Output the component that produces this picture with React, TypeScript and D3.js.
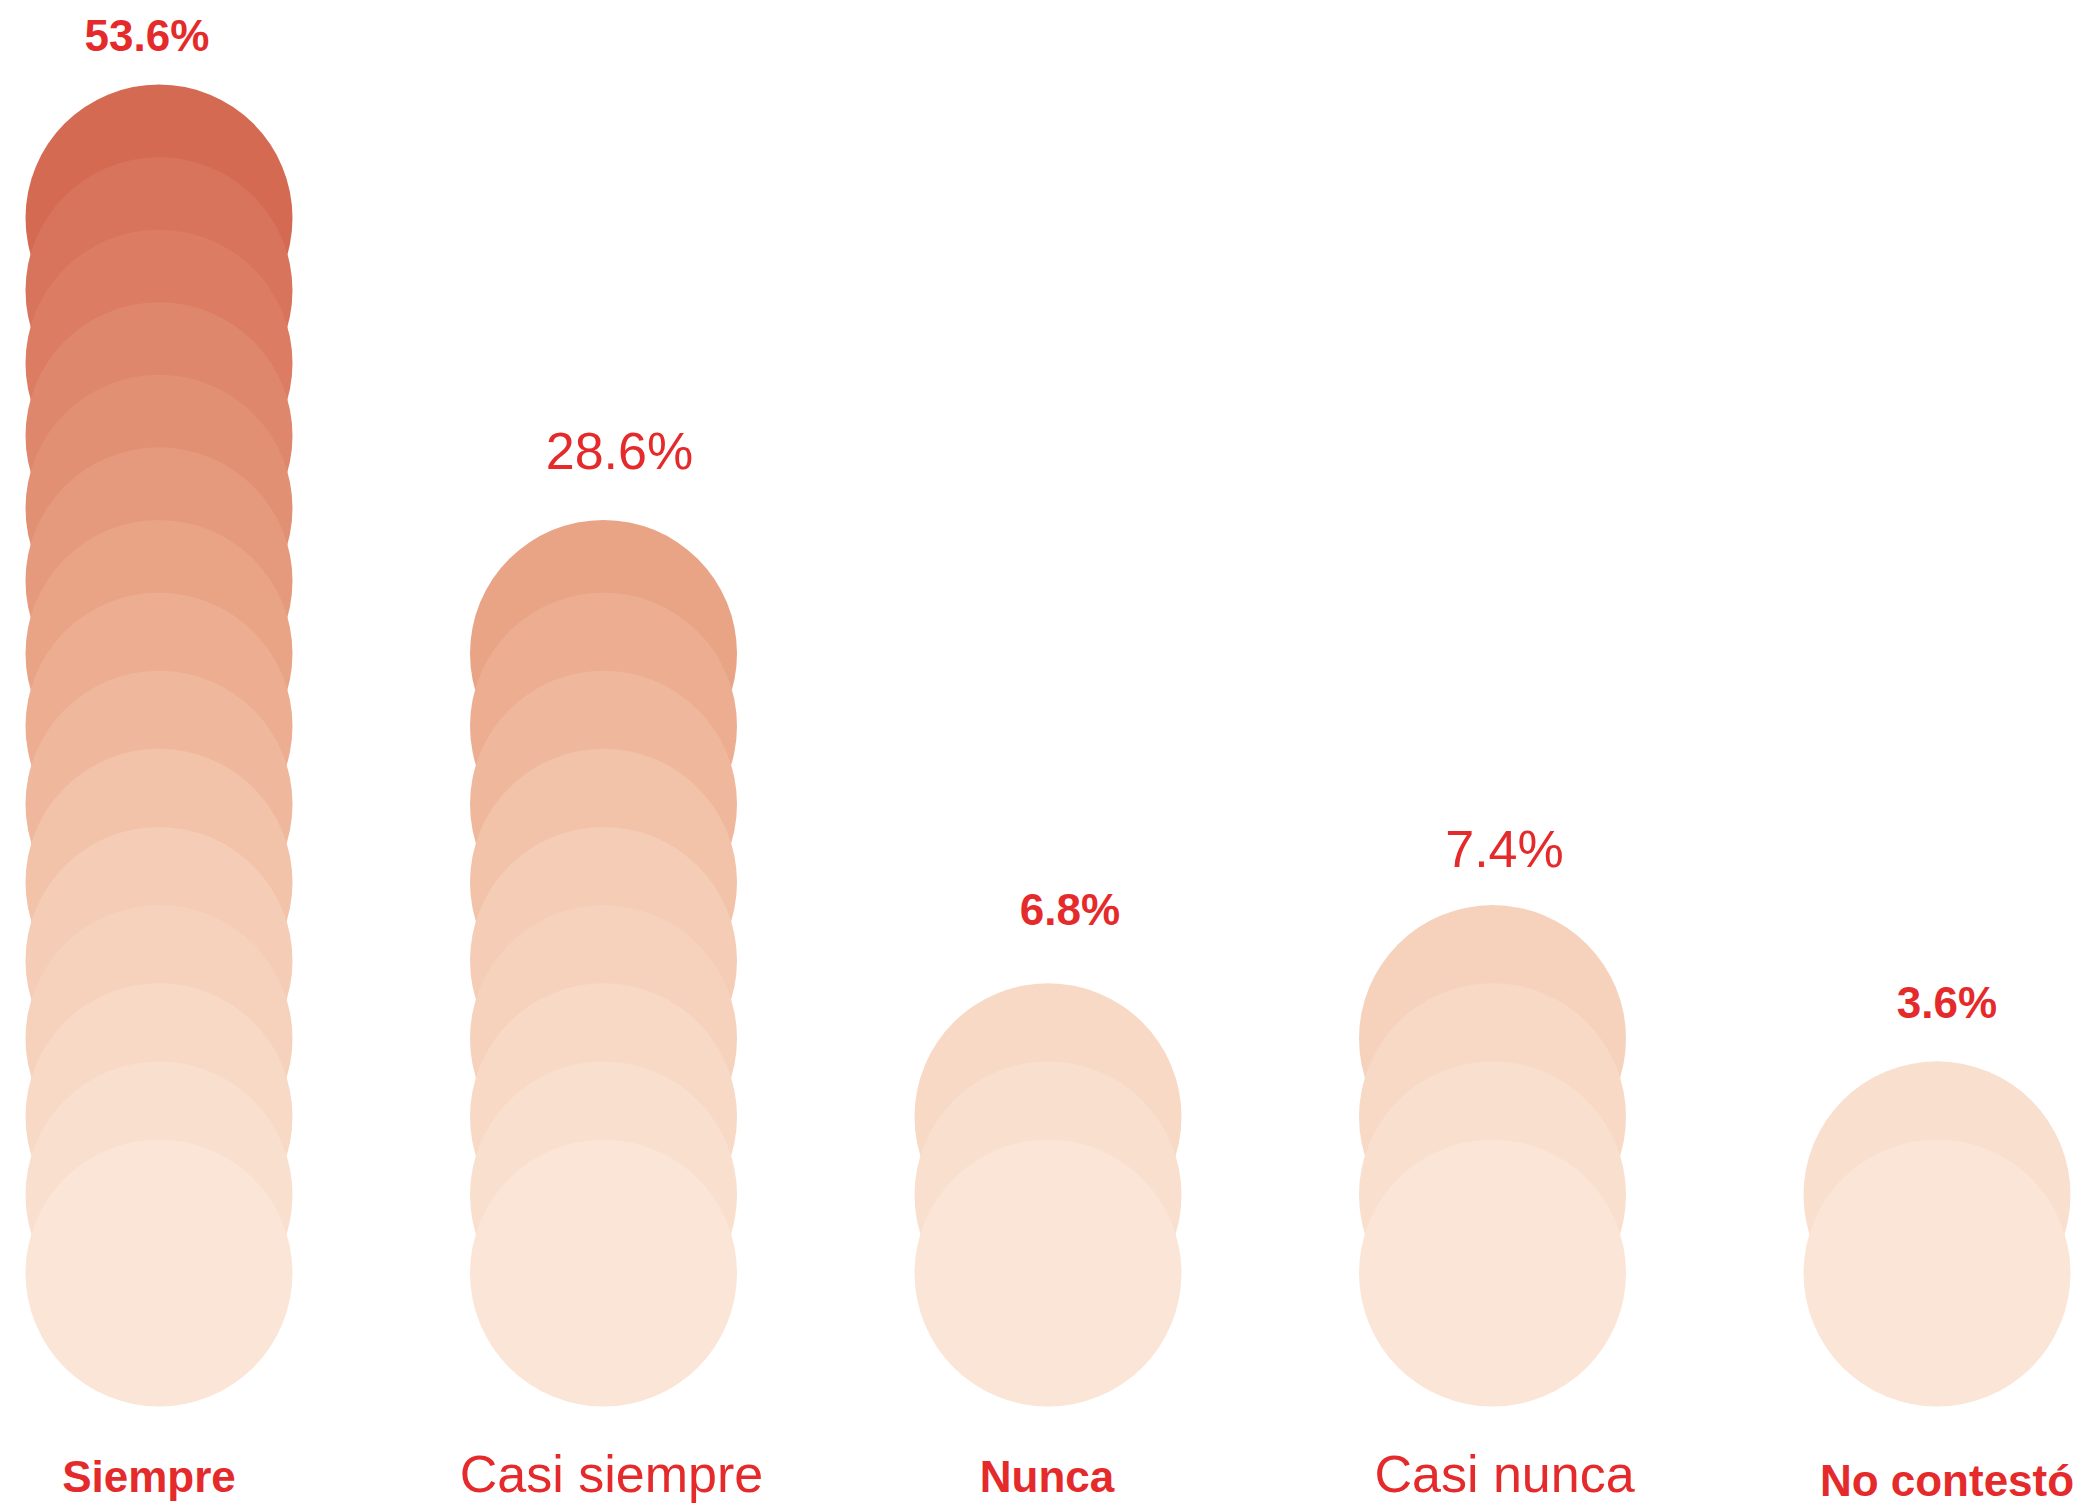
import React from "react";
import * as d3 from "d3";

// ---- data ----
const categories = ["Siempre", "Casi siempre", "Nunca", "Casi nunca", "No contestó"];
const values = [53.6, 28.6, 6.8, 7.4, 3.6];
const dotCounts = [15, 9, 3, 4, 2];
const boldLabels = [true, false, true, false, true];

// ---- layout ----
const W = 2089;
const H = 1510;
const R = 133.5;
const labelDx = [-12, 16, 22, 12, 10];
const labelGap = [34, 51, 58, 38, 43];
const catDx = [-10, 8, -1, 12, 10];
const RED = "#e52a2b";

export default function App() {
  const x = d3.scalePoint<string>().domain(categories).range([159, 1937]);
  const levelY = d3.scaleLinear().domain([0, 7, 14]).range([1273, 726, 218]);
  const color = d3
    .scaleLinear<string>()
    .domain([0, 4, 8, 14])
    .range(["#fae5d6", "#f5ccb5", "#e9a385", "#d56a52"])
    .interpolate(d3.interpolateRgb);

  return (
    <div style={{ position: "absolute", left: 0, top: 0 }}>
      <svg width={W} height={H} viewBox={`0 0 ${W} ${H}`} style={{ display: "block", background: "#fff" }}>
        {categories.map((c, ci) => {
          const cx = x(c) as number;
          const levels = d3.range(dotCounts[ci]).reverse();
          const topY = levelY(dotCounts[ci] - 1) - R;
          const bold = boldLabels[ci];
          return (
            <g key={c}>
              {levels.map((lv) => (
                <circle key={lv} cx={cx} cy={levelY(lv)} r={R} fill={color(lv)} />
              ))}
              <text
                x={cx + labelDx[ci]}
                y={topY - labelGap[ci]}
                textAnchor="middle"
                fill={RED}
                fontFamily="'Liberation Sans', Arial, Helvetica, sans-serif"
                fontWeight={bold ? 700 : 400}
                fontSize={bold ? 44 : 52}
              >
                {d3.format(".1f")(values[ci])}%
              </text>
              <text
                x={cx + catDx[ci]}
                y={ci === 4 ? 1496 : 1492}
                textAnchor="middle"
                fill={RED}
                fontFamily="'Liberation Sans', Arial, Helvetica, sans-serif"
                fontWeight={bold ? 700 : 400}
                fontSize={bold ? 44 : 52}
              >
                {c}
              </text>
            </g>
          );
        })}
      </svg>
    </div>
  );
}
